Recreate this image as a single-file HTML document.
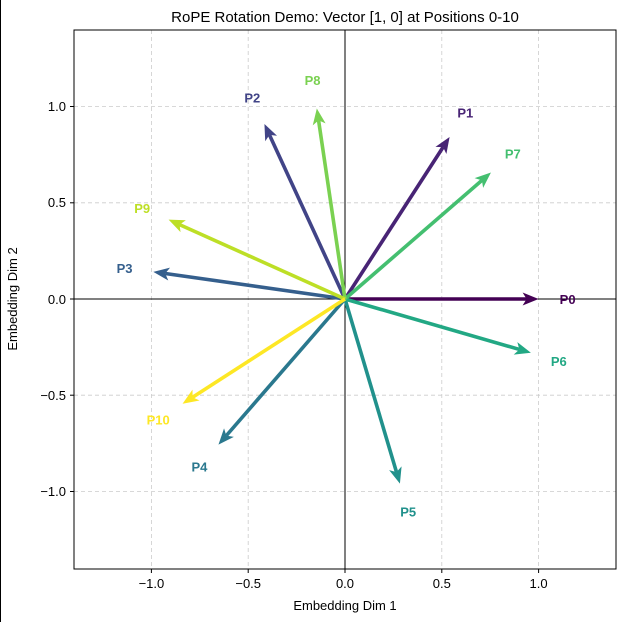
<!DOCTYPE html>
<html><head><meta charset="utf-8"><style>
body{margin:0;background:#fff;}
svg{display:block;font-family:"Liberation Sans","DejaVu Sans",sans-serif;}
</style></head><body>
<svg id="s" width="624" height="622" xmlns="http://www.w3.org/2000/svg">
<rect width="624" height="622" fill="#fff"/>
<line x1="0.5" y1="0" x2="0.5" y2="622" stroke="#000" stroke-width="1"/>
<g stroke="#cccccc" stroke-width="0.8" stroke-dasharray="4,3">
<line x1="151.4" y1="30" x2="151.4" y2="569"/>
<line x1="248.2" y1="30" x2="248.2" y2="569"/>
<line x1="345" y1="30" x2="345" y2="569"/>
<line x1="441.8" y1="30" x2="441.8" y2="569"/>
<line x1="538.6" y1="30" x2="538.6" y2="569"/>
<line x1="74" y1="491.5" x2="616" y2="491.5"/>
<line x1="74" y1="395.2" x2="616" y2="395.2"/>
<line x1="74" y1="299" x2="616" y2="299"/>
<line x1="74" y1="202.8" x2="616" y2="202.8"/>
<line x1="74" y1="106.5" x2="616" y2="106.5"/>
</g>
<line x1="345" y1="30" x2="345" y2="569" stroke="#000" stroke-width="1"/>
<line x1="74" y1="299" x2="616" y2="299" stroke="#000" stroke-width="1"/>
<g id="arrows"></g>
<rect x="74" y="30" width="542" height="539" fill="none" stroke="#000" stroke-width="1"/>
<g stroke="#000" stroke-width="1">
<line x1="151.4" y1="569" x2="151.4" y2="573"/><line x1="248.2" y1="569" x2="248.2" y2="573"/>
<line x1="345" y1="569" x2="345" y2="573"/><line x1="441.8" y1="569" x2="441.8" y2="573"/>
<line x1="538.6" y1="569" x2="538.6" y2="573"/>
<line x1="70" y1="491.5" x2="74" y2="491.5"/><line x1="70" y1="395.2" x2="74" y2="395.2"/>
<line x1="70" y1="299" x2="74" y2="299"/><line x1="70" y1="202.8" x2="74" y2="202.8"/>
<line x1="70" y1="106.5" x2="74" y2="106.5"/>
</g>
<g font-size="13" fill="#000" text-anchor="middle">
<text x="151.4" y="588">−1.0</text><text x="248.2" y="588">−0.5</text>
<text x="345" y="588">0.0</text><text x="441.8" y="588">0.5</text><text x="538.6" y="588">1.0</text>
</g>
<g font-size="13" fill="#000" text-anchor="end">
<text x="66" y="496">−1.0</text><text x="66" y="400">−0.5</text>
<text x="66" y="304">0.0</text><text x="66" y="207">0.5</text><text x="66" y="111">1.0</text>
</g>
<text x="345" y="22" font-size="15" text-anchor="middle">RoPE Rotation Demo: Vector [1, 0] at Positions 0-10</text>
<text x="345" y="610" font-size="13" text-anchor="middle">Embedding Dim 1</text>
<text transform="translate(17,299) rotate(-90)" font-size="13" text-anchor="middle">Embedding Dim 2</text>
</svg>
<script>
var cols=["#440154","#482475","#414487","#355f8d","#2a788e","#21918c","#22a884","#44bf70","#7ad151","#bddf26","#fde725"];
var g=document.getElementById("arrows"),h="";
function px(x){return 345+x*193.6;}function py(y){return 299-y*192.5;}
for(var p=0;p<=10;p++){
 var c=Math.cos(p),s=Math.sin(p);
 var tx=px(c),ty=py(s),dx=tx-345,dy=ty-299,L=Math.hypot(dx,dy),ux=dx/L,uy=dy/L,nx=-uy,ny=ux;
 var hl=16,hw=6.5,nb=12;
 var bx=tx-ux*nb,by=ty-uy*nb;
 h+='<line x1="345" y1="299" x2="'+bx+'" y2="'+by+'" stroke="'+cols[p]+'" stroke-width="3.6"/>';
 h+='<polygon fill="'+cols[p]+'" points="'+tx+','+ty+' '+(tx-ux*hl+nx*hw)+','+(ty-uy*hl+ny*hw)+' '+bx+','+by+' '+(tx-ux*hl-nx*hw)+','+(ty-uy*hl-ny*hw)+'"/>';
 h+='<text x="'+px(1.15*c)+'" y="'+(py(1.15*s)+5)+'" fill="'+cols[p]+'" font-size="13" font-weight="bold" text-anchor="middle">P'+p+'</text>';
}
g.innerHTML=h;
</script>
</body></html>
